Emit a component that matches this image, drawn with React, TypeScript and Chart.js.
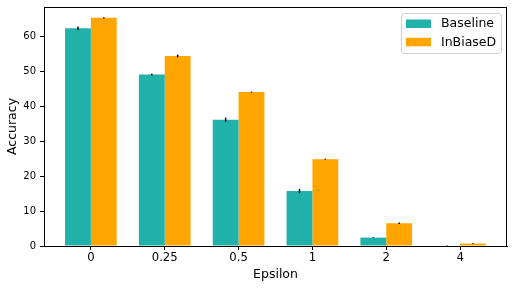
import React, { useEffect, useRef } from "react";
import { Chart, registerables } from "chart.js";

Chart.register(...registerables);

const categories = ["0", "0.25", "0.5", "1", "2", "4"];
const baseline = [62.2, 49.0, 36.1, 15.7, 2.4, 0.15];
const baselineErr = [0.5, 0.25, 0.6, 0.6, 0.1, 0.05];
const inbiased = [65.2, 54.3, 44.0, 24.8, 6.5, 0.7];
const inbiasedErr = [0.2, 0.4, 0.15, 0.15, 0.2, 0.1];
const yTicks = [0, 10, 20, 30, 40, 50, 60];
const seriesNames = ["Baseline", "InBiaseD"];
const colors = ["#20B2AA", "#FFA500"];

const FONT = "'DejaVu Sans', sans-serif";

const errorBarPlugin = {
  id: "errorBars",
  afterDatasetsDraw(chart: any) {
    const ctx = chart.ctx;
    const yScale = chart.scales.y;
    const errs = [baselineErr, inbiasedErr];
    const vals = [baseline, inbiased];
    ctx.save();
    ctx.strokeStyle = "#000";
    ctx.lineWidth = 1.5;
    chart.data.datasets.forEach((_: any, di: number) => {
      const meta = chart.getDatasetMeta(di);
      meta.data.forEach((bar: any, i: number) => {
        const v = vals[di][i];
        const e = errs[di][i];
        const y1 = yScale.getPixelForValue(v - e);
        const y2 = yScale.getPixelForValue(v + e);
        ctx.beginPath();
        ctx.moveTo(bar.x, y1);
        ctx.lineTo(bar.x, y2);
        ctx.stroke();
      });
    });
    ctx.restore();
  },
};

const frameLegendPlugin = {
  id: "frameLegend",
  afterDraw(chart: any) {
    const ctx = chart.ctx;
    const a = chart.chartArea;
    ctx.save();
    ctx.strokeStyle = "#000";
    ctx.lineWidth = 1;
    ctx.strokeRect(Math.round(a.left) + 0.5, Math.round(a.top) + 0.5, Math.round(a.right - a.left) - 1, Math.round(a.bottom - a.top));
    // legend
    const bx = a.right - 106;
    const by = a.top + 6;
    const bw = 100;
    const bh = 40;
    ctx.fillStyle = "rgba(255,255,255,0.8)";
    ctx.strokeStyle = "#d0d0d0";
    ctx.lineWidth = 1;
    ctx.beginPath();
    (ctx as any).roundRect(bx + 0.5, by + 0.5, bw, bh, 3);
    ctx.fill();
    ctx.stroke();
    ctx.font = `12.5px ${FONT}`;
    ctx.textBaseline = "middle";
    ctx.textAlign = "left";
    seriesNames.forEach((name, i) => {
      const cy = by + 10.5 + i * 18.3;
      ctx.fillStyle = colors[i];
      ctx.fillRect(bx + 5, cy - 4, 25, 8.5);
      ctx.fillStyle = "#000";
      ctx.fillText(name, bx + 40, cy + 0.5);
    });
    ctx.restore();
  },
};

function BarChart() {
  const ref = useRef<HTMLCanvasElement>(null);
  useEffect(() => {
    if (!ref.current) return;
    const chart = new Chart(ref.current, {
      type: "bar",
      data: {
        datasets: [
          {
            label: seriesNames[0],
            data: baseline.map((v, i) => ({ x: i, y: v })),
            backgroundColor: colors[0],
          },
          {
            label: seriesNames[1],
            data: inbiased.map((v, i) => ({ x: i, y: v })),
            backgroundColor: colors[1],
          },
        ],
      },
      options: {
        responsive: false,
        animation: false,
        devicePixelRatio: 1,
        layout: { padding: { left: 0, right: 8, top: 7, bottom: 0 } },
        datasets: { bar: { categoryPercentage: 0.7, barPercentage: 1.0 } },
        plugins: {
          legend: { display: false },
          tooltip: { enabled: false },
        },
        scales: {
          x: {
            type: "linear",
            min: -0.635,
            max: 5.635,
            offset: false,
            afterBuildTicks: (scale: any) => {
              scale.ticks = categories.map((_, i) => ({ value: i }));
            },
            afterFit: (scale: any) => {
              scale.height = 43;
              scale.paddingLeft = 0;
              scale.paddingRight = 0;
            },
            ticks: {
              callback: (v: any) => categories[v] ?? "",
              color: "#000",
              font: { family: FONT, size: 11.7 },
              padding: 0.5,
              maxRotation: 0,
              autoSkip: false,
            },
            grid: {
              display: true,
              offset: false,
              drawOnChartArea: false,
              drawTicks: true,
              tickLength: 4,
              color: "#000",
            },
            border: { display: true, color: "#000", width: 1 },
            title: {
              display: true,
              text: "Epsilon",
              color: "#000",
              font: { family: FONT, size: 12.5 },
              padding: { top: 0, bottom: 6.5 },
            },
          },
          y: {
            min: 0,
            max: 68.3,
            afterBuildTicks: (scale: any) => {
              scale.ticks = yTicks.map((v) => ({ value: v }));
            },
            afterFit: (scale: any) => {
              scale.width = 44;
              scale.paddingTop = 0;
              scale.paddingBottom = 0;
            },
            ticks: {
              color: "#000",
              font: { family: FONT, size: 10 },
              padding: 4,
            },
            grid: {
              display: true,
              drawOnChartArea: false,
              drawTicks: true,
              tickLength: 4,
              color: "#000",
            },
            border: { display: true, color: "#000", width: 1 },
            title: {
              display: true,
              text: "Accuracy",
              color: "#000",
              font: { family: FONT, size: 12.5 },
              padding: { top: 5.5, bottom: 0 },
            },
          },
        },
      } as any,
      plugins: [errorBarPlugin, frameLegendPlugin],
    });
    return () => chart.destroy();
  }, []);
  return <canvas ref={ref} width={515} height={289} style={{ display: "block" }} />;
}

export default function App() {
  useEffect(() => {
    document.body.style.margin = "0";
  }, []);
  return (
    <div style={{ position: "fixed", left: 0, top: 0, width: 515, height: 289, background: "#fff" }}>
      <BarChart />
    </div>
  );
}
